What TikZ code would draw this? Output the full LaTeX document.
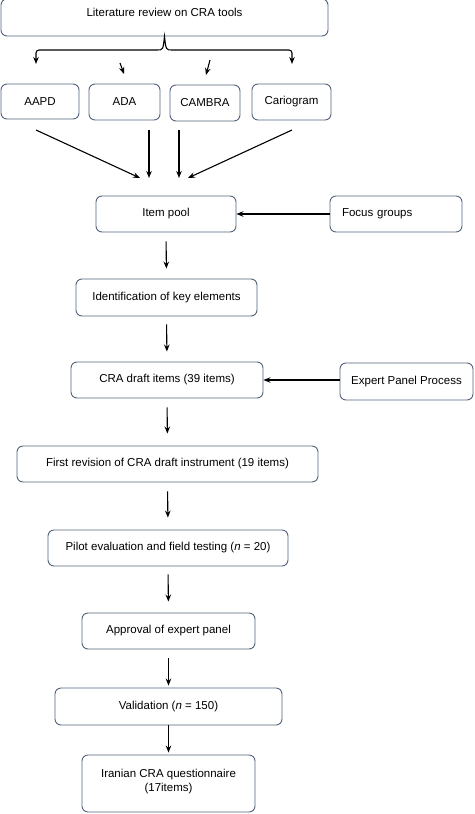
\documentclass[tikz,border=0pt]{standalone}
\usepackage{fontspec}
\setmainfont{Liberation Sans}
\usetikzlibrary{arrows.meta}
\definecolor{boxline}{HTML}{52627A}
\tikzset{
	box/.style={draw=boxline, line width=0.9pt, rounded corners=6pt, align=center, inner sep=0pt, font=\fontsize{11.5}{14}\selectfont},
	arr/.style={-{Stealth[length=7pt,width=5.5pt]}, line width=1.1pt, color=black},
}

\begin{document}
\begin{tikzpicture}[x=1pt, y=-1pt]
			%%%%% START %%%%%
			\useasboundingbox (0, 0) rectangle (474, 814);
			
			\node[box, minimum width=327pt, minimum height=37pt] (lit) at (164.5, 17.5) {Literature review on CRA tools\\[-4pt]};
			
			\node[box, minimum width=78pt, minimum height=35pt] (aapd) at (40, 101.5) {AAPD};
			\node[box, minimum width=71pt, minimum height=36pt] (ada) at (124.5, 102) {ADA};
			\node[box, minimum width=70pt, minimum height=36pt] (cambra) at (205, 103) {CAMBRA};
			\node[box, minimum width=79pt, minimum height=36pt] (cario) at (291.5, 102) {Cariogram};
			
			\node[box, minimum width=140pt, minimum height=36pt] (pool) at (166, 214) {Item pool};
			\node[box, minimum width=132pt, minimum height=36pt, text width=108pt, align=left] (focus) at (396, 214) {Focus groups};
			
			\node[box, minimum width=181pt, minimum height=37pt] (ident) at (166.5, 297.5) {Identification of key elements};
			
			\node[box, minimum width=192pt, minimum height=36pt] (draft) at (167, 380) {CRA draft items (39 items)};
			\node[box, minimum width=133pt, minimum height=37pt] (expert) at (406.5, 381.5) {Expert Panel Process};
			
			\node[box, minimum width=301pt, minimum height=36pt] (first) at (167.5, 464) {First revision of CRA draft instrument (19 items)};
			\node[box, minimum width=240pt, minimum height=36pt] (pilot) at (168, 548) {Pilot evaluation and field testing (\textit{n} = 20)};
			\node[box, minimum width=173pt, minimum height=36pt] (approv) at (168.5, 631) {Approval of expert panel};
			\node[box, minimum width=227pt, minimum height=37pt] (valid) at (168.5, 706.5) {Validation (\textit{n} = 150)};
			\node[box, minimum width=173pt, minimum height=57pt] (iran) at (168.5, 783.5) {Iranian CRA questionnaire\\(17items)\\[-7pt]};
			
			% brace under the literature box
			\coordinate (b1) at (36, 64);
			\coordinate (b4) at (292, 64);
			\draw[line width=1.1pt] (157, 50) .. controls (163, 50) .. (lit.south) .. controls (166, 50) .. (172, 50);
			\draw[arr, rounded corners=3pt] (157, 50) -| (b1);
			\draw[arr, rounded corners=3pt] (172, 50) -| (b4);
			
			\coordinate (s2a) at (120, 63);
			\coordinate (s2b) at (124, 74);
			\coordinate (s3a) at (210, 60);
			\coordinate (s3b) at (206, 75);
			\draw[arr] (s2a) -- (s2b);
			\draw[arr] (s3a) -- (s3b);
			
			% tools into the item pool
			\coordinate (n1) at (36, 130);
			\coordinate (n2) at (149, 130);
			\coordinate (n3) at (179, 130);
			\coordinate (n4) at (292, 130);
			\coordinate (m1) at (140, 178);
			\coordinate (m2) at (149, 178);
			\coordinate (m3) at (179, 178);
			\coordinate (m4) at (188, 178);
			\draw[arr] (n1) -- (m1);
			\draw[arr] (n2) -- (m2);
			\draw[arr] (n3) -- (m3);
			\draw[arr] (n4) -- (m4);
			
			\draw[arr] (focus.west) -- (pool.east);
			\draw[arr] (expert.west |- draft.east) -- (draft.east);
			
			\draw[arr, shorten <=9pt, shorten >=10pt] (pool.south) -- (ident.north);
			\draw[arr, shorten <=8pt, shorten >=10pt] (ident.south) -- (draft.north);
			\draw[arr, shorten <=9pt, shorten >=12pt] (draft.south) -- (first.north);
			\draw[arr, shorten <=9pt, shorten >=12pt] (first.south) -- (pilot.north);
			\draw[arr, shorten <=8pt, shorten >=11pt] (pilot.south) -- (approv.north);
			\draw[arr, shorten <=9pt, shorten >=2pt] (approv.south) -- (valid.north);
			\draw[arr, shorten >=2pt] (valid.south) -- (iran.north);
			
			%%%%% END %%%%%
		\end{tikzpicture}
\end{document}
